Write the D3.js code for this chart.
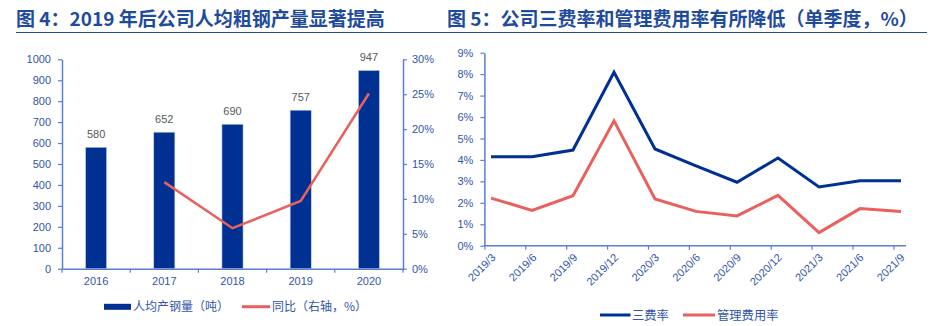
<!DOCTYPE html>
<html><head><meta charset="utf-8">
<script src="https://cdn.jsdelivr.net/npm/d3@7"></script>
<style>
html,body{margin:0;padding:0;background:#fff;}
svg{display:block;font-family:Arial,"Liberation Sans","Noto Sans CJK SC",sans-serif;}
</style></head>
<body>
<svg id="c" width="933" height="326"></svg>
<script>
// ---- data ----
const years = ["2016","2017","2018","2019","2020"];
const output = [580, 652, 690, 757, 947];            // 人均产钢量（吨）
const yoy = [null, 12.4, 5.8, 9.7, 25.1];            // 同比（%）
const leftTicks = [0,100,200,300,400,500,600,700,800,900,1000];
const rightTicks = [0,5,10,15,20,25,30];

const quarters = ["2019/3","2019/6","2019/9","2019/12","2020/3","2020/6","2020/9","2020/12","2021/3","2021/6","2021/9"];
const threeFee = [4.15, 4.15, 4.46, 8.09, 4.51, 3.72, 2.96, 4.09, 2.74, 3.03, 3.03];  // 三费率
const mgmtFee  = [2.22, 1.65, 2.33, 5.82, 2.18, 1.60, 1.39, 2.35, 0.61, 1.73, 1.60];  // 管理费用率
const pctTicks = [0,1,2,3,4,5,6,7,8,9];

const svg = d3.select("#c");
const titleColor = "#1f4b9c", axisColor = "#5a7fd0", tickText = "#3256a8";
const navy = "#003192", red = "#e8615c";
const cjk = '"Noto Sans CJK SC",sans-serif';

// ---- titles ----
svg.append("text").attr("x",16).attr("y",26).attr("fill",titleColor)
  .attr("font-family",cjk).attr("font-weight","bold").attr("font-size",19)
  .text("图 4：2019 年后公司人均粗钢产量显著提高");
svg.append("text").attr("x",447).attr("y",26).attr("fill",titleColor)
  .attr("font-family",cjk).attr("font-weight","bold").attr("font-size",19)
  .text("图 5：公司三费率和管理费用率有所降低（单季度，%）");
svg.append("line").attr("x1",16).attr("x2",927).attr("y1",32.5).attr("y2",32.5)
  .attr("stroke","#1f4b9c").attr("stroke-width",1.2);

function styleAxis(g){
  g.selectAll(".domain").attr("stroke",axisColor).attr("stroke-width",1.5);
  g.selectAll(".tick line").attr("stroke",axisColor).attr("stroke-width",1.2);
  g.selectAll(".tick text").attr("fill",tickText).attr("font-size",11)
    .attr("font-family","Arial,'Liberation Sans',sans-serif");
}

// ---- left chart ----
const xL = d3.scaleBand().domain(years).range([62,403]).paddingInner(0.69).paddingOuter(0.345);
const yL = d3.scaleLinear().domain([0,1000]).range([268.7,59.3]);
const yR = d3.scaleLinear().domain([0,30]).range([268.7,59.3]);

svg.append("g").selectAll("rect").data(years).join("rect")
  .attr("x",d=>xL(d)).attr("width",xL.bandwidth())
  .attr("y",(d,i)=>yL(output[i])).attr("height",(d,i)=>yL(0)-yL(output[i]))
  .attr("fill",navy).attr("stroke","#c9d6f0").attr("stroke-width",0.6);

svg.append("g").selectAll("text").data(years).join("text")
  .attr("x",d=>xL(d)+xL.bandwidth()/2).attr("y",(d,i)=>yL(output[i])-9)
  .attr("text-anchor","middle").attr("font-size",11).attr("fill","#595959")
  .text((d,i)=>output[i]);

const lineL = d3.line().defined(d=>d.v!=null).x(d=>xL(d.k)+xL.bandwidth()/2).y(d=>yR(d.v));
svg.append("path").datum(years.map((k,i)=>({k,v:yoy[i]})))
  .attr("d",lineL).attr("fill","none").attr("stroke",red).attr("stroke-width",2.5);

svg.append("g").attr("transform","translate(62,0)")
  .call(d3.axisLeft(yL).tickValues(leftTicks).tickFormat(d3.format("d")).tickSize(4).tickPadding(7).tickSizeOuter(0))
  .call(styleAxis);
svg.append("g").attr("transform","translate(403,0)")
  .call(d3.axisRight(yR).tickValues(rightTicks).tickFormat(d=>d+"%").tickSize(4).tickPadding(5).tickSizeOuter(0))
  .call(styleAxis);
// x axis with ticks at band boundaries
svg.append("g").attr("transform","translate(0,268.7)")
  .call(d3.axisBottom(xL).tickSize(0).tickPadding(9).tickSizeOuter(0)).call(styleAxis);
svg.append("g").selectAll("line").data(years.concat(["end"])).join("line")
  .attr("x1",(d,i)=>62+i*xL.step()).attr("x2",(d,i)=>62+i*xL.step())
  .attr("y1",268.7).attr("y2",272.7).attr("stroke",axisColor).attr("stroke-width",1.2);

// left legend
svg.append("rect").attr("x",104).attr("y",303.8).attr("width",27).attr("height",6).attr("fill",navy);
svg.append("text").attr("x",133).attr("y",311).attr("font-family",cjk).attr("font-size",12)
  .attr("fill",tickText).text("人均产钢量（吨）");
svg.append("line").attr("x1",242).attr("x2",270).attr("y1",306.7).attr("y2",306.7)
  .attr("stroke",red).attr("stroke-width",3);
svg.append("text").attr("x",272).attr("y",311).attr("font-family",cjk).attr("font-size",12)
  .attr("fill",tickText).text("同比（右轴，%）");

// ---- right chart ----
const xP = d3.scalePoint().domain(quarters).range([491,901]);
const xT = d3.scalePoint().domain(quarters).range([484.4,893.4]);
const yP = d3.scaleLinear().domain([0,9]).range([245.7,52.7]);

svg.append("g").attr("transform","translate(484.4,0)")
  .call(d3.axisLeft(yP).tickValues(pctTicks).tickFormat(d=>d+"%").tickSize(4).tickPadding(7).tickSizeOuter(0))
  .call(styleAxis);
const gx2 = svg.append("g").attr("transform","translate(0,245.7)")
  .call(d3.axisBottom(xT).tickSize(4).tickSizeOuter(0)).call(styleAxis);
gx2.select(".domain").attr("d","M484.4,0H906");
gx2.selectAll(".tick text").attr("text-anchor","end")
  .attr("transform","translate(6,7) rotate(-45)").attr("dy","0.7em").attr("y",0).attr("x",0);

const lineP = d3.line().x((d,i)=>xP(quarters[i])).y(d=>yP(d));
svg.append("path").datum(mgmtFee).attr("d",lineP).attr("fill","none")
  .attr("stroke",red).attr("stroke-width",3).attr("stroke-linejoin","miter");
svg.append("path").datum(threeFee).attr("d",lineP).attr("fill","none")
  .attr("stroke",navy).attr("stroke-width",3).attr("stroke-linejoin","miter");

// right legend
svg.append("line").attr("x1",600).attr("x2",630.5).attr("y1",315).attr("y2",315)
  .attr("stroke",navy).attr("stroke-width",3);
svg.append("text").attr("x",632).attr("y",319.5).attr("font-family",cjk).attr("font-size",12.3)
  .attr("fill",tickText).text("三费率");
svg.append("line").attr("x1",683).attr("x2",715).attr("y1",315).attr("y2",315)
  .attr("stroke",red).attr("stroke-width",3);
svg.append("text").attr("x",717).attr("y",319.5).attr("font-family",cjk).attr("font-size",12.3)
  .attr("fill",tickText).text("管理费用率");
</script>
</body></html>
